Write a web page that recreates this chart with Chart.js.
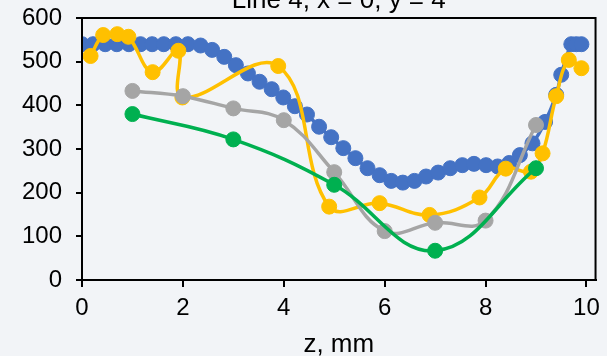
<!DOCTYPE html>
<html><head><meta charset="utf-8">
<script src="https://cdn.jsdelivr.net/npm/chart.js@4"></script>
<style>
html,body{margin:0;padding:0;background:#f2f4f7;overflow:hidden;width:607px;height:356px;}
#wrap{position:absolute;left:0;top:-20px;width:607px;height:386px;}
canvas{display:block;}
</style></head><body>
<div id="wrap"><canvas id="c" width="607" height="386"></canvas></div>
<script>
const titleText = "Line 4, x = 0, y = 4";
const xTitle = "z, mm";
const xTicks = [0, 2, 4, 6, 8, 10];
const yTicks = [0, 100, 200, 300, 400, 500, 600];

const blueZ = [0, 0.22, 0.46, 0.69, 0.93, 1.16, 1.39, 1.62, 1.86, 2.1, 2.35, 2.58, 2.82, 3.05, 3.29, 3.52, 3.76, 3.99, 4.22, 4.46, 4.7, 4.94, 5.18, 5.42, 5.66, 5.9, 6.13, 6.36, 6.59, 6.82, 7.06, 7.3, 7.54, 7.77, 8.01, 8.24, 8.47, 8.68, 8.93, 9.18, 9.4, 9.5, 9.7, 9.8, 9.9];
const blueV = [540, 540, 540, 540, 540, 540, 540, 540, 540, 540, 537, 527, 511, 492, 473, 454, 437, 418, 398, 379, 351, 327, 302, 279, 256, 240, 227, 223, 227, 237, 246, 256, 263, 266, 263, 260, 268, 286, 313, 362, 424, 470, 540, 540, 540];

const yellowZ = [0.17, 0.42, 0.7, 0.92, 1.4, 1.91, 1.99, 3.89, 4.9, 5.9, 6.89, 7.88, 8.4, 8.9, 9.13, 9.4, 9.65, 9.9];
const yellowV = [513, 561, 563, 557, 476, 525, 418, 490, 168, 176, 149, 189, 255, 248, 290, 421, 504, 485];

const grayZ = [1, 2, 3, 4, 5, 6, 7, 8, 9];
const grayV = [433, 421, 393, 366, 247, 112, 131, 136, 355];

const greenZ = [1, 3, 5, 7, 9];
const greenV = [380, 322, 218, 67, 256];

const FONT = "'Liberation Sans', Arial, sans-serif";

function pts(zs, vs) { return zs.map((z, i) => ({x: z, y: vs[i]})); }
function ds(zs, vs, color, order) {
  return {
    data: pts(zs, vs),
    borderColor: color,
    backgroundColor: color,
    pointBackgroundColor: color,
    pointBorderColor: color,
    pointRadius: 7.5,
    pointBorderWidth: 1,
    borderWidth: 3.5,
    tension: 0.4,
    order: order,
    showLine: true
  };
}

const frame = {
  id: 'frame',
  afterDatasetsDraw(chart) {
    const a = chart.chartArea, ctx = chart.ctx;
    ctx.save();
    ctx.strokeStyle = '#000';
    ctx.lineWidth = 2;
    ctx.strokeRect(a.left, a.top, a.right - a.left, a.bottom - a.top);
    ctx.fillStyle = '#000';
    ctx.font = "26px " + FONT;
    ctx.textAlign = 'center';
    ctx.textBaseline = 'alphabetic';
    ctx.fillText(titleText, (a.left + a.right) / 2, 28);
    ctx.restore();
  }
};

new Chart(document.getElementById('c'), {
  type: 'scatter',
  data: {
    datasets: [
      ds(greenZ, greenV, '#00b050', 1),
      ds(grayZ, grayV, '#a5a5a5', 2),
      ds(yellowZ, yellowV, '#ffc000', 3),
      ds(blueZ, blueV, '#4472c4', 4)
    ]
  },
  options: {
    responsive: false,
    devicePixelRatio: 1,
    animation: false,
    layout: {padding: {left: 0, right: 11, top: 38, bottom: 0}},
    plugins: {
      legend: {display: false},
      tooltip: {enabled: false},
      title: {display: false}
    },
    scales: {
      x: {
        type: 'linear',
        min: 0, max: 10.18,
        afterBuildTicks: s => { s.ticks = xTicks.map(v => ({value: v})); },
        afterFit: s => { s.height = 86; },
        border: {display: true, color: '#000', width: 2},
        grid: {display: true, drawOnChartArea: false, drawTicks: true, tickLength: 7, color: '#000', lineWidth: 2},
        ticks: {color: '#000', font: {family: FONT, size: 24}, padding: 7, maxRotation: 0},
        title: {display: true, text: xTitle, color: '#000', font: {family: FONT, size: 26}, padding: {top: 0, bottom: 6}}
      },
      y: {
        type: 'linear',
        min: 0, max: 600,
        afterBuildTicks: s => { s.ticks = yTicks.map(v => ({value: v})); },
        afterFit: s => { s.width = 82; },
        border: {display: true, color: '#000', width: 2},
        grid: {display: true, drawOnChartArea: false, drawTicks: true, tickLength: 6, color: '#000', lineWidth: 2},
        ticks: {color: '#000', font: {family: FONT, size: 24}, padding: 14}
      }
    }
  },
  plugins: [frame]
});
</script>
</body></html>
